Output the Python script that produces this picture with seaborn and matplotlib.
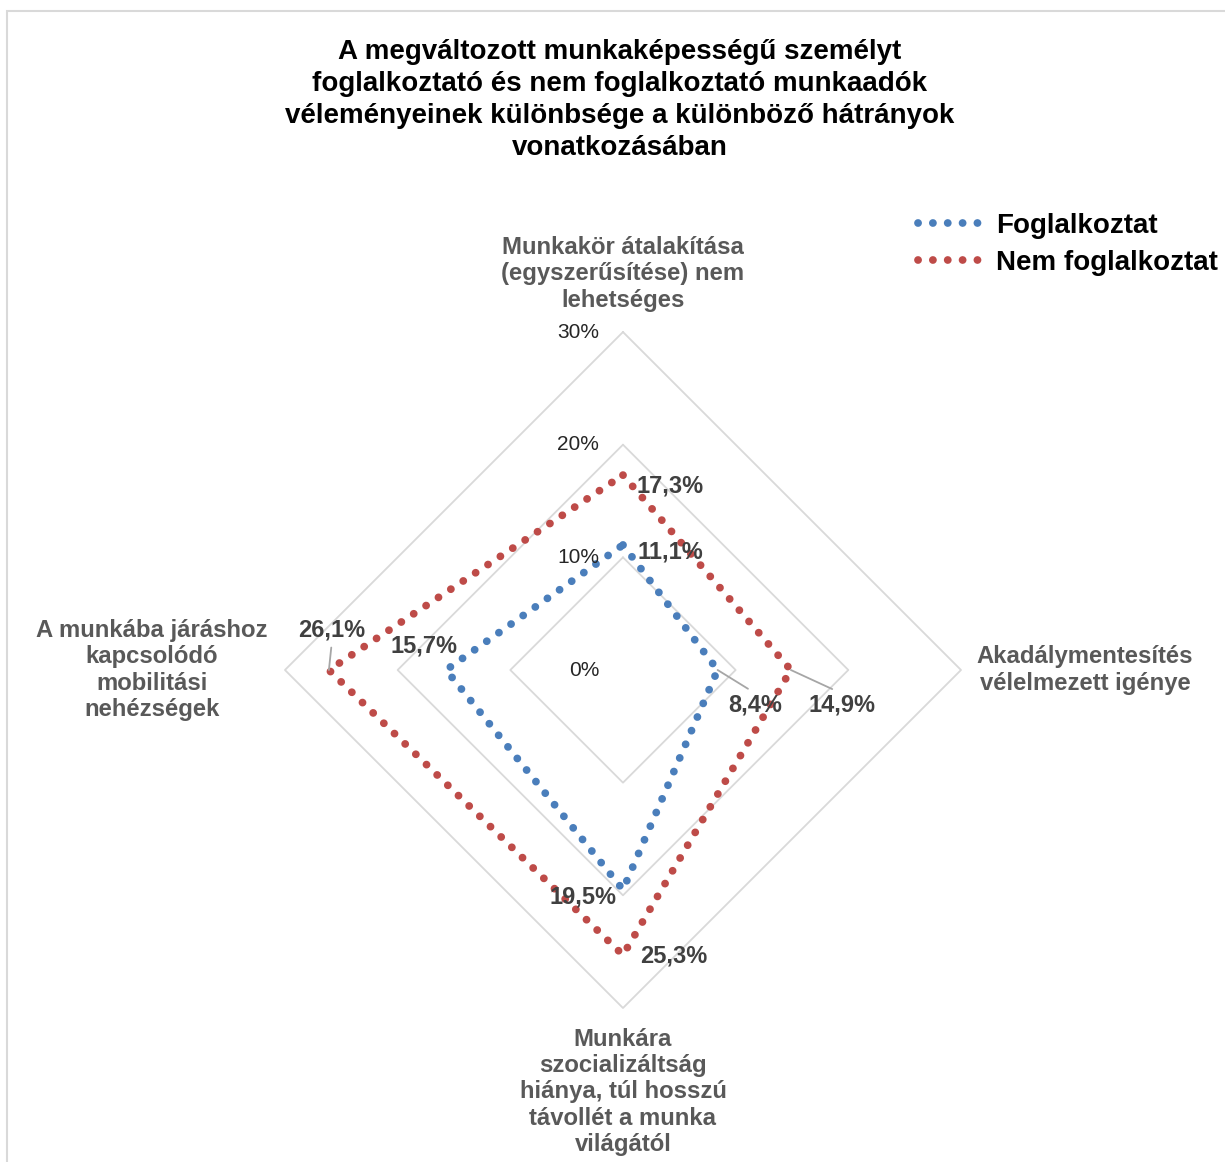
import numpy as np
import pandas as pd
import seaborn as sns
import matplotlib.pyplot as plt
from matplotlib.lines import Line2D

# categories clockwise from the top, as in the reference
categories = [
    "Munkakör átalakítása\n(egyszerűsítése) nem\nlehetséges",
    "Akadálymentesítés\nvélelmezett igénye",
    "Munkára\nszocializáltság\nhiánya, túl hosszú\ntávollét a munka\nvilágától",
    "A munkába járáshoz\nkapcsolódó\nmobilitási\nnehézségek",
]
series_names = ["Foglalkoztat", "Nem foglalkoztat"]
foglalkoztat = [11.1, 8.4, 19.5, 15.7]
nem_foglalkoztat = [17.3, 14.9, 25.3, 26.1]
rings = [10, 20, 30]
ring_labels = ["0%", "10%", "20%", "30%"]

title = ("A megváltozott munkaképességű személyt\n"
         "foglalkoztató és nem foglalkoztató munkaadók\n"
         "véleményeinek különbsége a különböző hátrányok\n"
         "vonatkozásában")

colors = {"Foglalkoztat": "#4A7EBB", "Nem foglalkoztat": "#BE4B48"}
angles = np.deg2rad([90, 0, -90, 180])
dot_style = (0, (0.01, 1.9))

sns.set_theme(style="white")
plt.rcParams["font.family"] = ["Liberation Sans", "DejaVu Sans"]

fig = plt.figure(figsize=(12.25, 11.62), dpi=100)
ax = fig.add_axes([0, 0, 1, 1])
ax.set_xlim(-55.29, 53.43)
ax.set_ylim(-43.67, 59.47)
ax.axis("off")


def to_xy(vals):
    v = np.array(list(vals) + [vals[0]], dtype=float)
    a = np.append(angles, angles[0])
    return v * np.cos(a), v * np.sin(a)


# diamond grid
for r in rings:
    gx, gy = to_xy([r] * 4)
    sns.lineplot(x=gx, y=gy, sort=False, estimator=None, ax=ax,
                 color="#D9D9D9", lw=1.3)

for r, lab in zip([0] + rings, ring_labels):
    ax.text(-2.1, r, lab, ha="right", va="center", fontsize=15, color="#262626")

# series
for name, vals in zip(series_names, [foglalkoztat, nem_foglalkoztat]):
    sx, sy = to_xy(vals)
    df = pd.DataFrame({"x": sx, "y": sy})
    sns.lineplot(data=df, x="x", y="y", sort=False, estimator=None, ax=ax,
                 color=colors[name], lw=5.6, linestyle=dot_style,
                 dash_capstyle="round")

# data labels (offset in pixels from the point)
offsets = {
    "Foglalkoztat": [(47, -7), (38, -35), (-40, -7), (-22, 24)],
    "Nem foglalkoztat": [(47, -11), (51, -35), (51, -1), (3, 40)],
}
leaders = {("Foglalkoztat", 1), ("Nem foglalkoztat", 1), ("Nem foglalkoztat", 3)}
for name, vals in zip(series_names, [foglalkoztat, nem_foglalkoztat]):
    for i, v in enumerate(vals):
        px, py = v * np.cos(angles[i]), v * np.sin(angles[i])
        txt = f"{v:.1f}%".replace(".", ",")
        kw = {}
        if (name, i) in leaders:
            kw["arrowprops"] = dict(arrowstyle="-", color="#A6A6A6", lw=1.3,
                                    shrinkA=2, shrinkB=0,
                                    relpos=(0.5, 1.0) if i == 1 else (0.5, 0.0))
        ax.annotate(txt, (px, py), xytext=offsets[name][i],
                    textcoords="offset pixels", ha="center", va="center",
                    fontsize=17, fontweight="bold", color="#404040", **kw)

# category labels
cat_pos = [(0, 35.15), (41.0, 0), (0, -37.45), (-41.8, 0)]
for lab, (cx, cy) in zip(categories, cat_pos):
    ax.text(cx, cy, lab, ha="center", va="center", fontsize=17.2,
            fontweight="bold", color="#595959", linespacing=1.18)

fig.text(0.506, 1 - 100 / 1162, title, ha="center", va="center",
         fontsize=20, fontweight="bold", color="black", linespacing=1.3)

handles = [Line2D([0], [0], color=colors[n], lw=5.6, linestyle=dot_style,
                  dash_capstyle="round") for n in series_names]
leg = fig.legend(handles, series_names, loc="upper left",
                 bbox_to_anchor=(918 / 1225, 1 - 213 / 1162), frameon=False,
                 prop={"weight": "bold", "size": 20}, handlelength=2.4,
                 handletextpad=0.4, labelspacing=0.4, borderpad=0,
                 borderaxespad=0)
for t in leg.get_texts():
    t.set_color("black")

# outer chart border (only left and top edges fall inside the picture)
fig.patches.append(plt.Rectangle((7 / 1225, -0.05), 1.1, 1 - 11 / 1162 + 0.05,
                                 transform=fig.transFigure, fill=False,
                                 edgecolor="#D9D9D9", lw=1.5))

fig.savefig("out.png", dpi=100)
